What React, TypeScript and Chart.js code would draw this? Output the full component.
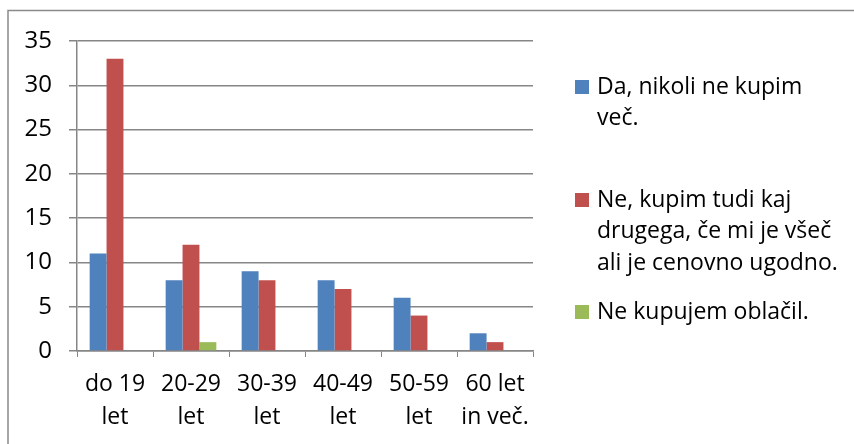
import React, { useEffect, useRef } from "react";
import { Chart, registerables } from "chart.js";

Chart.register(...registerables);

const categories: string[][] = [
  ["do 19", "let"],
  ["20-29", "let"],
  ["30-39", "let"],
  ["40-49", "let"],
  ["50-59", "let"],
  ["60 let", "in več."],
];

const seriesNames: string[] = [
  "Da, nikoli ne kupim več.",
  "Ne, kupim tudi kaj drugega, če mi je všeč ali je cenovno ugodno.",
  "Ne kupujem oblačil.",
];

const legendLines: string[][] = [
  ["Da, nikoli ne kupim", "več."],
  ["Ne, kupim tudi kaj", "drugega, če mi je všeč", "ali je cenovno ugodno."],
  ["Ne kupujem oblačil."],
];

const daNikoli: number[] = [11, 8, 9, 8, 6, 2];
const neKupimTudi: number[] = [33, 12, 8, 7, 4, 1];
const neKupujem: number[] = [0, 1, 0, 0, 0, 0];

const colors = ["#4F81BD", "#C0504D", "#9BBB59"];
const FONT = "'Open Sans', 'DejaVu Sans', sans-serif";
const GRID = "#868686";

const framePlugin = {
  id: "frameAndLegend",
  afterDraw(chart: any) {
    const ctx = chart.ctx as CanvasRenderingContext2D;
    ctx.save();
    // outer frame
    ctx.strokeStyle = "#8a8a8a";
    ctx.lineWidth = 1.5;
    ctx.beginPath();
    ctx.moveTo(8, 460);
    ctx.lineTo(8, 10.5);
    ctx.lineTo(860, 10.5);
    ctx.stroke();

    // legend
    const itemTops = [87, 200, 312];
    const lineStep = 31.5;
    ctx.font = `23px ${FONT}`;
    ctx.textBaseline = "middle";
    ctx.textAlign = "left";
    legendLines.forEach((lines, i) => {
      const y0 = itemTops[i];
      ctx.fillStyle = colors[i];
      ctx.fillRect(575, y0 - 7, 14, 14);
      ctx.fillStyle = "#000";
      lines.forEach((ln, j) => {
        ctx.fillText(ln, 597, y0 + j * lineStep);
      });
    });
    ctx.restore();
  },
};

export default function App() {
  const ref = useRef<HTMLCanvasElement | null>(null);
  useEffect(() => {
    if (!ref.current) return;
    const chart = new Chart(ref.current, {
      type: "bar",
      data: {
        labels: categories,
        datasets: [
          { label: seriesNames[0], data: daNikoli, backgroundColor: colors[0] },
          { label: seriesNames[1], data: neKupimTudi, backgroundColor: colors[1] },
          { label: seriesNames[2], data: neKupujem, backgroundColor: colors[2] },
        ],
      },
      options: {
        animation: false,
        responsive: false,
        maintainAspectRatio: false,
        devicePixelRatio: 1,
        layout: { padding: { left: 0, right: 321, top: 41, bottom: 0 } },
        plugins: {
          legend: { display: false },
          tooltip: { enabled: false },
        },
        datasets: {
          bar: { categoryPercentage: 3 / 4.5, barPercentage: 1 },
        },
        scales: {
          x: {
            grid: {
              offset: true,
              drawOnChartArea: false,
              drawTicks: true,
              tickLength: 6,
              color: GRID,
              lineWidth: 1,
            },
            border: { color: GRID, width: 1.5 },
            ticks: {
              color: "#000",
              font: { family: FONT, size: 23, lineHeight: 1.42 },
              padding: 11,
              maxRotation: 0,
              autoSkip: false,
            },
            afterFit: (s: any) => {
              s.height = 93;
            },
          },
          y: {
            min: 0,
            max: 35,
            ticks: {
              stepSize: 5,
              color: "#000",
              font: { family: FONT, size: 24 },
              padding: 17,
            },
            grid: {
              color: GRID,
              lineWidth: 1.5,
              drawTicks: true,
              tickLength: 8,
            },
            border: { color: GRID, width: 1.5 },
            afterFit: (s: any) => {
              s.width = 77;
            },
          },
        },
      },
      plugins: [framePlugin],
    });
    return () => chart.destroy();
  }, []);
  return (
    <div style={{ position: "fixed", left: 0, top: 0, width: 854, height: 444, background: "#fff" }}>
      <canvas ref={ref} width={854} height={444} style={{ display: "block", width: 854, height: 444 }} />
    </div>
  );
}
